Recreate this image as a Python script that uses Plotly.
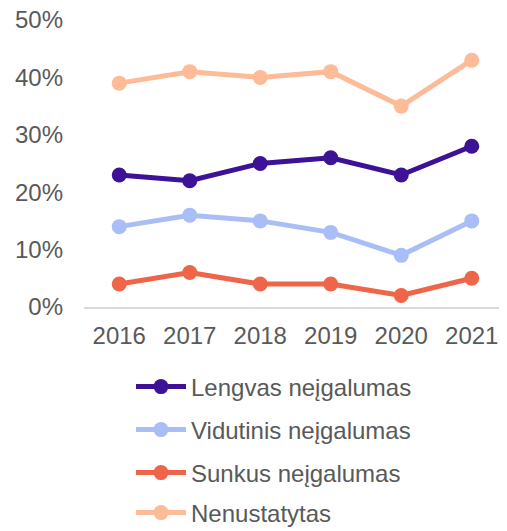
import plotly.graph_objects as go

years = ["2016", "2017", "2018", "2019", "2020", "2021"]
lengvas = [23, 22, 25, 26, 23, 28]
vidutinis = [14, 16, 15, 13, 9, 15]
sunkus = [4, 6, 4, 4, 2, 5]
nenustatytas = [39, 41, 40, 41, 35, 43]

series = [
    ("Lengvas neįgalumas", lengvas, "#3D1296"),
    ("Vidutinis neįgalumas", vidutinis, "#A9BEF6"),
    ("Sunkus neįgalumas", sunkus, "#EF6549"),
    ("Nenustatytas", nenustatytas, "#FDBB98"),
]
legend_rows_page_y = [387, 430, 473, 513]

# page has an 8px body margin: figure drawn at (8, 8)
OFF = 8
W, H = 507 - OFF, 531 - OFF
L, T = 84 - OFF, 20 - OFF
pw, ph = 423, 287
R, B = W - L - pw, H - T - ph
FS = 24

fig = go.Figure()
legends = {}
for i, (name, vals, col) in enumerate(series):
    lname = "legend" if i == 0 else f"legend{i + 1}"
    fig.add_trace(go.Scatter(
        x=years, y=vals, name=name, mode="lines+markers",
        line=dict(color=col, width=5),
        marker=dict(color=col, size=15),
        legend=lname,
    ))
    yfig = legend_rows_page_y[i] - OFF
    legends[lname] = dict(
        x=(123 - L) / pw, y=((T + ph) - yfig) / ph,
        xanchor="left", yanchor="middle",
        font=dict(size=FS, color="#595959"),
        bgcolor="rgba(0,0,0,0)", itemwidth=50,
    )

fig.update_layout(
    width=W, height=H,
    margin=dict(l=L, r=R, t=T, b=B, autoexpand=False),
    paper_bgcolor="white", plot_bgcolor="white",
    font=dict(family="Liberation Sans, Arial, sans-serif", size=FS, color="#595959"),
    showlegend=True,
    xaxis=dict(
        type="category", range=[-0.5, 5.5], showgrid=False, showline=True,
        linecolor="#D9D9D9", linewidth=1.5, ticks="", ticklabelstandoff=6,
        zeroline=False, tickangle=0,
    ),
    yaxis=dict(
        range=[0, 50], dtick=10, ticksuffix="%", showgrid=False,
        zeroline=False, showline=False, ticklabelstandoff=20,
        ticklabeloverflow="allow",
    ),
    **legends,
)

fig.write_html("out.html")
